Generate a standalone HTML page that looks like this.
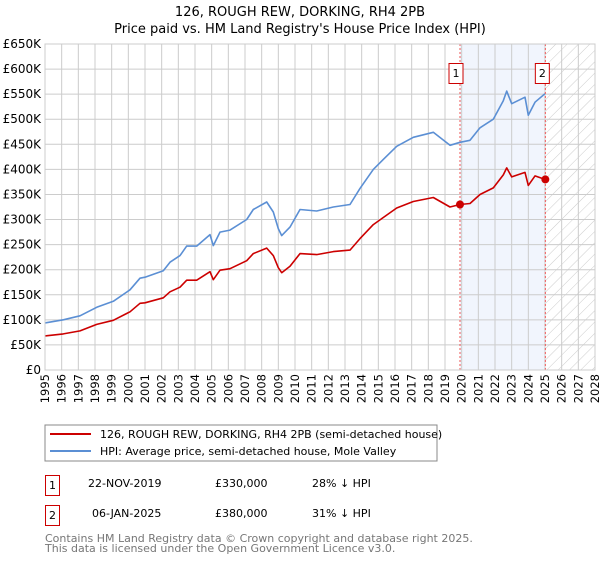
<!DOCTYPE html>
<html><head><meta charset="utf-8"><style>
body{margin:0;background:#fff;font-family:"Liberation Sans","DejaVu Sans",sans-serif;}
</style></head><body>
<svg id="chart" width="600" height="560" xmlns="http://www.w3.org/2000/svg" font-family="DejaVu Sans, Liberation Sans, sans-serif">
<defs>
<pattern id="hatch" width="8" height="8" patternUnits="userSpaceOnUse" patternTransform="rotate(45)">
<line x1="0" y1="0" x2="0" y2="8" stroke="#ccc" stroke-width="1"/></pattern>
</defs>
<text x="300" y="16" text-anchor="middle" font-size="13" fill="#000">126, ROUGH REW, DORKING, RH4 2PB</text>
<text x="300" y="33" text-anchor="middle" font-size="13" fill="#000">Price paid vs. HM Land Registry's House Price Index (HPI)</text>
<g id="bg"></g><g id="grid"></g><g id="series"></g><g id="axes"></g>
<rect x="45" y="425" width="392" height="36" fill="#fff" stroke="#888"/>
<line x1="50" y1="434" x2="91" y2="434" stroke="#cc0000" stroke-width="2"/>
<text x="100" y="438" font-size="11">126, ROUGH REW, DORKING, RH4 2PB (semi-detached house)</text>
<line x1="50" y1="451" x2="91" y2="451" stroke="#5b8fd4" stroke-width="2"/>
<text x="100" y="455" font-size="11">HPI: Average price, semi-detached house, Mole Valley</text>
<g font-size="11">
<rect x="45.5" y="475.5" width="14" height="20" fill="#fff" stroke="#cc0000"/>
<text x="52.5" y="489" text-anchor="middle">1</text>
<text x="88" y="487">22-NOV-2019</text><text x="215" y="487">£330,000</text><text x="312" y="487">28% ↓ HPI</text>
<rect x="45.5" y="505.5" width="14" height="20" fill="#fff" stroke="#cc0000"/>
<text x="52.5" y="519" text-anchor="middle">2</text>
<text x="92" y="517">06-JAN-2025</text><text x="215" y="517">£380,000</text><text x="312" y="517">31% ↓ HPI</text>
</g>
<text x="45" y="542" font-size="11" fill="#777">Contains HM Land Registry data © Crown copyright and database right 2025.</text>
<text x="45" y="552" font-size="11" fill="#777">This data is licensed under the Open Government Licence v3.0.</text>
</svg>
<script>
const years=[1995.0,1996.1,1997.1,1998.1,1999.1,2000.1,2000.7,2001.0,2002.1,2002.5,2003.1,2003.5,2004.1,2004.9,2005.1,2005.5,2006.1,2007.1,2007.5,2008.3,2008.7,2009.0,2009.2,2009.7,2010.3,2011.3,2012.3,2013.3,2013.9,2014.7,2015.3,2016.1,2017.1,2018.3,2019.3,2019.9,2020.5,2021.1,2021.9,2022.5,2022.7,2023.0,2023.8,2024.0,2024.4,2025.0];
const hpi=[94,100,108,125,137,160,183,185,198,215,228,247,247,270,248,275,279,300,320,335,315,282,268,285,320,317,325,330,362,400,420,446,464,474,448,454,458,483,500,537,556,531,544,508,534,551];
const price=[68,72,78,91,99,116,133,134,144,156,165,179,179,196,180,199,202,218,232,243,228,204,194,207,232,230,236,239,262,290,304,323,336,344,325,330,332,350,363,389,403,385,394,368,387,380];
const sales=[{n:"1",year:2019.9,value:330},{n:"2",year:2025.02,value:380}];
const yTicks=[0,50,100,150,200,250,300,350,400,450,500,550,600,650];
const yLabels=["£0","£50K","£100K","£150K","£200K","£250K","£300K","£350K","£400K","£450K","£500K","£550K","£600K","£650K"];
const xTicks=[1995,1996,1997,1998,1999,2000,2001,2002,2003,2004,2005,2006,2007,2008,2009,2010,2011,2012,2013,2014,2015,2016,2017,2018,2019,2020,2021,2022,2023,2024,2025,2026,2027,2028];
const X0=45,X1=595,Y0=370,Y1=44;
const xs=y=>X0+(y-1995)/(2028-1995)*(X1-X0);
const ys=v=>Y0-v/650*(Y0-Y1);
const NS="http://www.w3.org/2000/svg";
function mk(parent,tag,attrs){const e=document.createElementNS(NS,tag);for(const k in attrs)e.setAttribute(k,attrs[k]);document.getElementById(parent).appendChild(e);return e;}
let e;
e=mk('bg','rect',{x:xs(sales[0].year),y:Y1,width:xs(sales[1].year)-xs(sales[0].year),height:Y0-Y1,fill:'#eef3fc',opacity:0.8});


e=mk('bg','rect',{x:xs(2025),y:Y1,width:X1-xs(2025),height:Y0-Y1,fill:'url(#hatch)'});


yTicks.forEach((t,i)=>{
 e=mk('grid','line',{x1:X0,x2:X1,y1:ys(t),y2:ys(t),stroke:'#ccc','stroke-width':1});
 
 
 e=mk('axes','text',{x:X0-4,y:ys(t)+4,'text-anchor':'end','font-size':12});
 e.textContent=yLabels[i];
 
 
});
xTicks.forEach(t=>{
 e=mk('grid','line',{x1:xs(t),x2:xs(t),y1:Y1,y2:Y0,stroke:'#ccc','stroke-width':1});
 
 
 e=mk('axes','text',{x:0,y:0,'text-anchor':'end','font-size':11.5,transform:`translate(${xs(t)+4},374) rotate(-90)`});
 e.textContent=t;
 
 
});
sales.forEach(s=>{
 e=mk('series','line',{x1:xs(s.year),x2:xs(s.year),y1:Y1,y2:Y0,stroke:'#e55','stroke-width':1,'stroke-dasharray':'2,2'});
 
 
});
function path(vals,color,name){
 const d=years.map((y,i)=>(i?'L':'M')+xs(y).toFixed(1)+','+ys(vals[i]).toFixed(1)).join('');
 e=mk('series','path',{d:d,fill:'none',stroke:color,'stroke-width':1.6,'stroke-linejoin':'round'});
 
 
}
path(hpi,'#5b8fd4','hpi-line');
path(price,'#cc0000','price-line');
sales.forEach(s=>{
 e=mk('series','circle',{cx:xs(s.year),cy:ys(s.value),r:4,fill:'#cc0000'});
 
 
 const bx=xs(s.year)-(s.n==='1'?11:10);
 e=mk('series','rect',{x:bx,y:63.5,width:14,height:20,fill:'#fff',stroke:'#cc0000'});
 
 
 e=mk('series','text',{x:bx+7,y:77,'text-anchor':'middle','font-size':11});
 e.textContent=s.n;
 
 
});
e=mk('axes','rect',{x:X0,y:Y1,width:X1-X0,height:Y0-Y1,fill:'none',stroke:'#ccc'});


</script>
</body></html>
